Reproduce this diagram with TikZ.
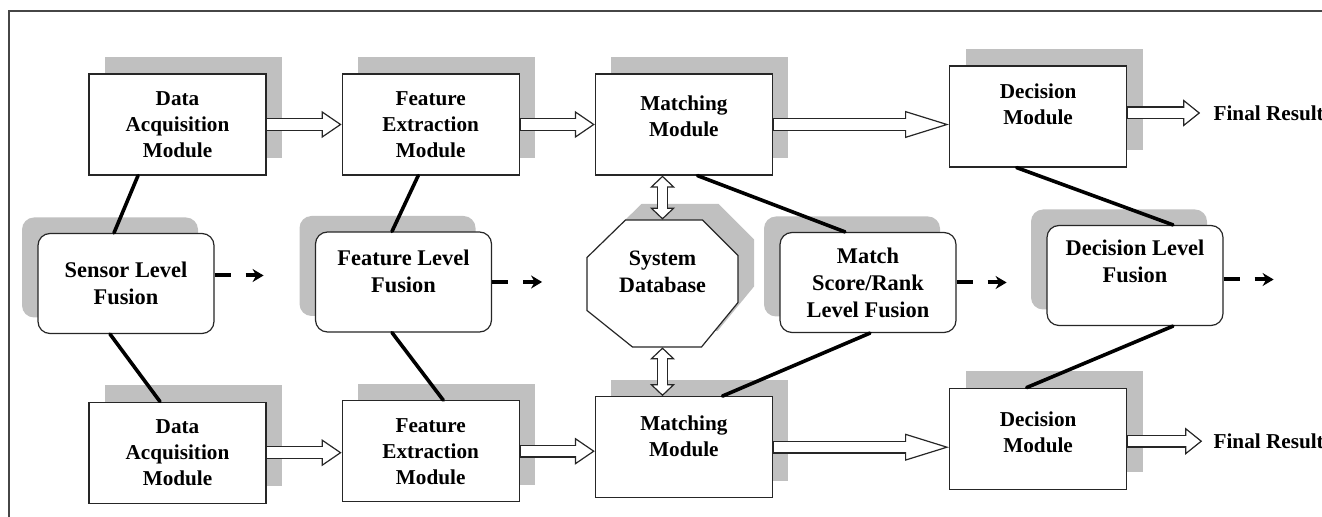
\documentclass[tikz,border=0pt]{standalone}
\usepackage{fontspec}
\setmainfont{Liberation Serif}
\usetikzlibrary{positioning, calc, arrows.meta, shadows}
\definecolor{shadowgray}{RGB}{192,192,192}
\definecolor{framegray}{RGB}{70,70,70}

\begin{document}
\begin{tikzpicture}[x=0.5pt, y=-0.5pt, node distance = 113pt and 37.5pt,
font=\fontsize{10.6pt}{13pt}\selectfont\bfseries,
module/.style= {rectangle, draw=black!85, line width=0.6pt, fill=white, align=center, minimum width=88.5pt, minimum height=50.5pt, inner sep=0pt, drop shadow={shadow xshift=8pt, shadow yshift=8.5pt, fill=shadowgray, opacity=1}},
fusion/.style= {rectangle, rounded corners=6pt, draw=black!85, line width=0.6pt, fill=white, align=center, minimum width=88pt, minimum height=50pt, inner sep=0pt, font=\fontsize{11.2pt}{13.5pt}\selectfont\bfseries, drop shadow={shadow xshift=-8pt, shadow yshift=8pt, fill=shadowgray, opacity=1}},
textup/.style={text depth=#1},
result/.style={inner xsep=#1, inner ysep=2pt},
link/.style={line width=1.8pt, line cap=round},
hollow/.style={line width=6.5pt, draw=black!85, -{Triangle[fill=white, line width=0.6pt, length=#1, width=13.5pt]}, postaction={draw=white, line width=5.3pt, -, shorten <=0.4pt, shorten >=#1-2.5pt}},
hollow/.default=10pt,
dbl/.style={line width=5.5pt, draw=black!85, {Triangle[fill=white, line width=0.6pt, length=6pt, width=12.5pt]}-{Triangle[fill=white, line width=0.6pt, length=6pt, width=12.5pt]}, postaction={draw=white, line width=4.3pt, -, shorten <=4pt, shorten >=4pt}},
fusionout/.style={line width=2pt, dash pattern=on 8pt off 7.5pt, -{Stealth[length=5.5pt, width=6.5pt]}} ]
\useasboundingbox (0,0) rectangle (1322,517);
\clip (0,0) rectangle (1322,517);
\draw[framegray, line width=0.65pt] (9,540) -- (9,11) -- (1340,11);

% upper row
\node (DA1) [module] at (177.5,124.5) {Data\\Acquisition\\Module};
\node (FE1) [module, right = of DA1] {Feature\\Extraction\\Module};
\node (MM1) [module, textup=8pt, right = of FE1] {Matching\\Module};
\node (DM1) [module, textup=12.5pt, right = 88pt of MM1, yshift=4pt] {Decision\\Module};
\node (FR1) [result=6.5pt, right = 36.5pt of DM1, yshift=1.75pt] {Final Result};

% lower row
\node (DA2) [module, below = of DA1] {Data\\Acquisition\\Module};
\node (FE2) [module, right = of DA2, yshift=0.75pt] {Feature\\Extraction\\Module};
\node (MM2) [module, textup=11pt, right = of FE2, yshift=2pt] {Matching\\Module};
\node (DM2) [module, textup=7pt, below = 110pt of DM1] {Decision\\Module};
\node (FR2) [result=5.5pt, right = 37.5pt of DM2, yshift=-1.25pt] {Final Result};

% fusion levels
\node (SLF) [fusion] at (126,283.5) {Sensor Level\\Fusion};
\node (FLF) [fusion, textup=11pt] at (403.5,282) {Feature Level\\Fusion};
\coordinate (SDc) at (662.5,283.5);
\draw[draw=black!85, line width=0.6pt, fill=white, drop shadow={shadow xshift=8pt, shadow yshift=8pt, fill=shadowgray, opacity=1}, shift={(SDc)}]
  (-37,-63.5) -- (40,-63.5) -- (75.5,-28) -- (75.5,19) -- (39,63.5) -- (-30,63.5) -- (-75.5,27) -- (-75.5,-26) -- cycle;
\node (SD) [align=center, textup=12pt, minimum width=75.5pt, minimum height=63.5pt, font=\fontsize{11pt}{13.5pt}\selectfont\bfseries] at (SDc) {System\\Database};
\node (MSR) [fusion] at (868,282.5) {Match\\Score/Rank\\Level Fusion};
\node (DLF) [fusion, textup=14pt] at (1135,275.5) {Decision Level\\Fusion};

% flow arrows
\draw[hollow] (DA1.east) -- (FE1.west);
\draw[hollow] (FE1.east) -- (MM1.west);
\draw[hollow=22pt] (MM1.east) -- (MM1.east -| DM1.west);
\draw[hollow=8.5pt] (DM1.east |- FR1.west) -- (FR1.west);
\draw[hollow] (DA2.east) -- (DA2.east -| FE2.west);
\draw[hollow] (FE2.east) -- (FE2.east -| MM2.west);
\draw[hollow=22pt] (MM2.east) -- (MM2.east -| DM2.west);
\draw[hollow=8.5pt] (DM2.east |- FR2.west) -- (FR2.west);
\draw[dbl] (SD.north) -- (SD.north |- MM1.south);
\draw[dbl] (SD.south) -- (SD.south |- MM2.north);

% links to fusion levels
\draw[link] ([xshift=-19.75pt]DA1.south) -- ([xshift=-6pt]SLF.north);
\draw[link] ([xshift=-8pt]SLF.south) -- ([xshift=-8.75pt]DA2.north);
\draw[link] ([xshift=-6.25pt]FE1.south) -- ([xshift=-5.75pt]FLF.north);
\draw[link] ([xshift=-5.75pt]FLF.south) -- ([xshift=6.25pt]FE2.north);
\draw[link] ([xshift=6.75pt]MM1.south) -- ([xshift=-11.5pt]MSR.north);
\draw[link] ([xshift=1pt]MSR.south) -- ([xshift=19.25pt]MM2.north);
\draw[link] ([xshift=-10.75pt]DM1.south) -- ([xshift=19pt]DLF.north);
\draw[link] ([xshift=19pt]DLF.south) -- ([xshift=-5.75pt]DM2.north);

% fusion outputs
\coordinate (SLFout) at ([xshift=24.5pt, yshift=4pt]SLF.east);
\coordinate (FLFout) at ([xshift=25pt]FLF.east);
\coordinate (MSRout) at ([xshift=25pt]MSR.east);
\coordinate (DLFout) at ([xshift=25pt, yshift=-2pt]DLF.east);
\draw[fusionout] ([yshift=4pt]SLF.east) -- (SLFout);
\draw[fusionout] (FLF.east) -- (FLFout);
\draw[fusionout] (MSR.east) -- (MSRout);
\draw[fusionout] ([yshift=-2pt]DLF.east) -- (DLFout);
\end{tikzpicture}
\end{document}
